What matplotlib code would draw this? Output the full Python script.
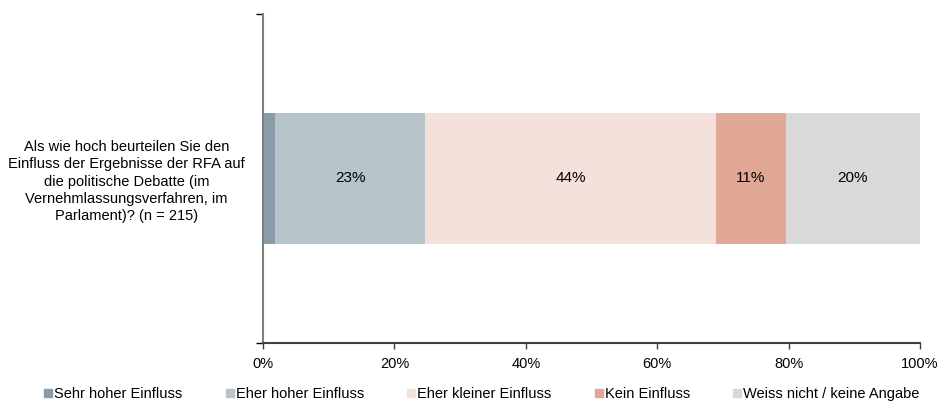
import matplotlib
matplotlib.use("Agg")
import matplotlib.pyplot as plt
from matplotlib.lines import Line2D

plt.rcParams['font.family'] = ['Liberation Sans', 'DejaVu Sans']

category = "Als wie hoch beurteilen Sie den\nEinfluss der Ergebnisse der RFA auf\ndie politische Debatte (im\nVernehmlassungsverfahren, im\nParlament)? (n = 215)"
series = ["Sehr hoher Einfluss", "Eher hoher Einfluss", "Eher kleiner Einfluss",
          "Kein Einfluss", "Weiss nicht / keine Angabe"]
values = [1.9, 22.8, 44.2, 10.7, 20.4]
labels = ["", "23%", "44%", "11%", "20%"]
colors = ["#8a9ca7", "#b7c4ca", "#f5e1dc", "#e1a895", "#d9d9d9"]
xticks = [0, 20, 40, 60, 80, 100]
xticklabels = ["0%", "20%", "40%", "60%", "80%", "100%"]

fs = 10.5

fig = plt.figure(figsize=(9.41, 4.05), dpi=100)
ax = fig.add_axes([263/941, 1-343/405, (920-263)/941, (343-14)/405])

left = 0
for v, lab, c, name in zip(values, labels, colors, series):
    ax.barh(0, v, left=left, height=0.4, color=c, label=name)
    if lab:
        ax.text(left + v/2, 0, lab, ha="center", va="center", fontsize=11, color="#000000")
    left += v

ax.set_xlim(0, 100)
ax.set_ylim(-0.5, 0.5)
ax.set_xticks(xticks)
ax.set_xticklabels(xticklabels, fontsize=fs)
ax.set_yticks([0])
ax.set_yticklabels([category], fontsize=fs, multialignment="center", linespacing=1.3)
ax.tick_params(axis="y", which="major", length=0, pad=13)
ax.set_yticks([-0.5, 0.5], minor=True)
ax.tick_params(axis="y", which="minor", length=5, color="#000000", width=1)
ax.tick_params(axis="x", length=4, color="#404040", width=1, pad=6)

for s in ["top", "right"]:
    ax.spines[s].set_visible(False)
ax.spines["left"].set_color("#808080")
ax.spines["left"].set_linewidth(1.5)
ax.spines["bottom"].set_color("#404040")
ax.spines["bottom"].set_linewidth(1.5)

handles = [Line2D([0], [0], marker="s", linestyle="none", markersize=5.5,
                  markerfacecolor=c, markeredgecolor=c) for c in colors]
fig.legend(handles, series, loc="center", bbox_to_anchor=(482/941, 1-394/405), ncol=5,
           frameon=False, fontsize=fs, handlelength=0.5, handletextpad=0.15,
           columnspacing=3.0)

fig.savefig("out.png", dpi=100)
